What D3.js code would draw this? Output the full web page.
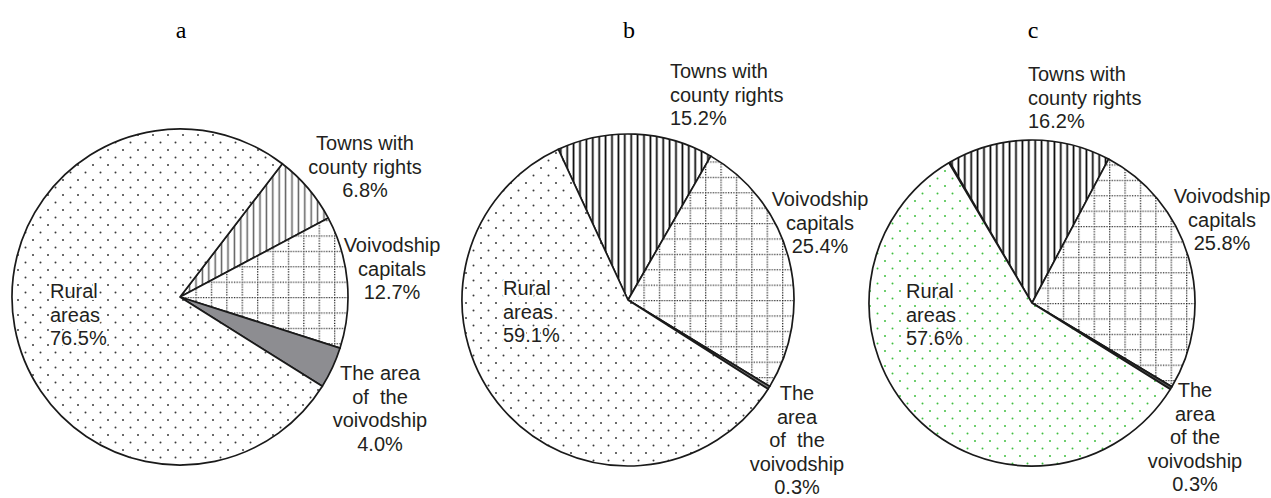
<!DOCTYPE html>
<html>
<head>
<meta charset="utf-8">
<script src="https://cdn.jsdelivr.net/npm/d3@7"></script>
<style>
  body { margin: 0; background: #fff; }
  svg { display: block; }
  .lbl { font-family: "Liberation Sans", Arial, sans-serif; font-size: 20px; fill: #231f20; white-space: pre;
         paint-order: stroke; stroke: #fff; stroke-width: 4px; stroke-linejoin: round; }
  .ttl { font-family: "Liberation Serif", "Times New Roman", serif; font-size: 24px; fill: #000; }
</style>
</head>
<body>
<svg width="1271" height="498"></svg>
<script>
(function () {
    // data (percent of total)
    const categories = ['Towns with county rights', 'Voivodship capitals', 'The area of the voivodship', 'Rural areas'];
    const valuesA = [6.8, 12.7, 4.0, 76.5];
    const valuesB = [15.2, 25.4, 0.3, 59.1];
    const valuesC = [16.2, 25.8, 0.3, 57.6];
    const panelTitles = ['a', 'b', 'c'];

    // how each label breaks into lines, per panel (value line appended)
    const labelLinesA = [['Towns with', 'county rights'], ['Voivodship', 'capitals'], ['The area', 'of  the', 'voivodship'], ['Rural', 'areas']];
    const labelLinesB = [['Towns with', 'county rights'], ['Voivodship', 'capitals'], ['The', 'area', 'of  the', 'voivodship'], ['Rural', 'areas']];
    const labelLinesC = [['Towns with', 'county rights'], ['Voivodship', 'capitals'], ['The', 'area', 'of the', 'voivodship'], ['Rural', 'areas']];

    const svg = d3.select('svg');
    const fmt = d3.format('.1f');
    const lineH = 23.6;

    const defs = svg.append('defs');

    const addVLines = (id, color, w) => {
        const p = defs.append('pattern').attr('id', id)
            .attr('patternUnits', 'userSpaceOnUse')
            .attr('width', 6.4).attr('height', 10);
        p.append('rect').attr('width', 6.4).attr('height', 10).attr('fill', '#fff');
        p.append('line').attr('x1', 3.2).attr('x2', 3.2).attr('y1', -1).attr('y2', 11)
            .attr('stroke', color).attr('stroke-width', w);
    };

    const addGrid = (id) => {
        const p = defs.append('pattern').attr('id', id)
            .attr('patternUnits', 'userSpaceOnUse')
            .attr('width', 15.4).attr('height', 15.4);
        p.append('rect').attr('width', 15.4).attr('height', 15.4).attr('fill', '#fff');
        p.append('line').attr('x1', 0).attr('x2', 15.4).attr('y1', 0.6).attr('y2', 0.6)
            .attr('stroke', '#222').attr('stroke-width', 1.4).attr('stroke-dasharray', '1.2 1.37');
        p.append('line').attr('x1', 0.6).attr('x2', 0.6).attr('y1', 0).attr('y2', 15.4)
            .attr('stroke', '#222').attr('stroke-width', 1.4).attr('stroke-dasharray', '1.2 1.37');
    };

    const addDots = (id, color) => {
        const p = defs.append('pattern').attr('id', id)
            .attr('patternUnits', 'userSpaceOnUse')
            .attr('width', 15).attr('height', 15);
        p.append('rect').attr('width', 15).attr('height', 15).attr('fill', '#fff');
        p.append('circle').attr('cx', 3).attr('cy', 3).attr('r', 1.0).attr('fill', color);
        p.append('circle').attr('cx', 10.5).attr('cy', 10.5).attr('r', 1.0).attr('fill', color);
    };

    addVLines('vl-gray', '#5e5e5e', 1.5);
    addVLines('vl-black', '#000', 1.7);
    addGrid('grid');
    addDots('dots-gray', '#3a3a3a');
    addDots('dots-green', '#3fbf3f');

    const panels = [
        {
            title: panelTitles[0], values: valuesA, lines: labelLinesA,
            cx: 180, cy: 297, r: 168, start: 37.5,
            fills: ['url(#vl-gray)', 'url(#grid)', '#8d8d91', 'url(#dots-gray)'],
            labels: [
                { x: 365, y: 150, anchor: 'middle' },
                { x: 392, y: 252, anchor: 'middle' },
                { x: 380, y: 380, anchor: 'middle' },
                { x: 50, y: 298, anchor: 'start' }
            ]
        },
        {
            title: panelTitles[1], values: valuesB, lines: labelLinesB,
            cx: 628, cy: 300, r: 166, start: -24.8,
            fills: ['url(#vl-black)', 'url(#grid)', '#777', 'url(#dots-gray)'],
            labels: [
                { x: 670, y: 78, anchor: 'start' },
                { x: 820, y: 206, anchor: 'middle' },
                { x: 797, y: 400, anchor: 'middle' },
                { x: 503, y: 295, anchor: 'start' }
            ]
        },
        {
            title: panelTitles[2], values: valuesC, lines: labelLinesC,
            cx: 1032, cy: 303, r: 163, start: -30.3,
            fills: ['url(#vl-black)', 'url(#grid)', '#555', 'url(#dots-green)'],
            labels: [
                { x: 1028, y: 81, anchor: 'start' },
                { x: 1222, y: 203, anchor: 'middle' },
                { x: 1195, y: 397, anchor: 'middle' },
                { x: 906, y: 298, anchor: 'start' }
            ]
        }
    ];

    panels.forEach(pn => {
        const rows = categories.map((c, i) => ({ name: c, value: pn.values[i], i: i }));
        const total = d3.sum(pn.values);
        const a0 = pn.start * Math.PI / 180;

        const pie = d3.pie()
            .sort(null)
            .value(d => d.value)
            .startAngle(a0)
            .endAngle(a0 + 2 * Math.PI * total / 100);

        const arc = d3.arc().innerRadius(0).outerRadius(pn.r);

        const g = svg.append('g').attr('transform', `translate(${pn.cx},${pn.cy})`);

        g.selectAll('path')
            .data(pie(rows))
            .enter()
            .append('path')
            .attr('d', arc)
            .attr('fill', d => pn.fills[d.data.i])
            .attr('stroke', '#1a1a1a')
            .attr('stroke-width', 1.7)
            .attr('stroke-linejoin', 'round');

        svg.append('text')
            .attr('class', 'ttl')
            .attr('x', pn.cx + 1)
            .attr('y', 38)
            .attr('text-anchor', 'middle')
            .text(pn.title);

        rows.forEach((d, i) => {
            const pos = pn.labels[i];
            const lines = pn.lines[i].concat([fmt(d.value) + '%']);
            const t = svg.append('text')
                .attr('class', 'lbl')
                .attr('text-anchor', pos.anchor)
                .attr('xml:space', 'preserve');
            lines.forEach((ln, k) => {
                t.append('tspan')
                    .attr('x', pos.x)
                    .attr('y', pos.y + k * lineH)
                    .text(ln);
            });
        });
    });
})();
</script>
</body>
</html>
